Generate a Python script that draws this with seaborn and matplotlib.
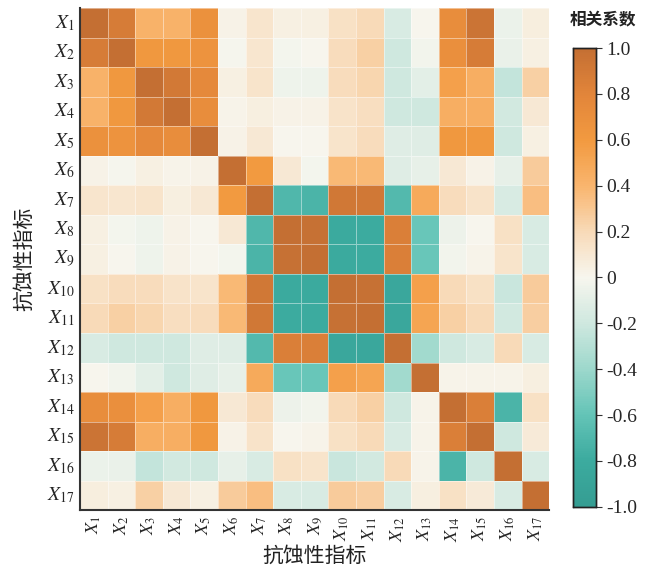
import numpy as np
import pandas as pd
import matplotlib
matplotlib.use("Agg")
import matplotlib.pyplot as plt
from matplotlib.colors import LinearSegmentedColormap
import seaborn as sns

labels = [f"X{i}" for i in range(1, 18)]
tick_labels = [f"$X_{{{i}}}$" for i in range(1, 18)]

# correlation coefficients, one row per indicator
r01 = [1.00, 0.88, 0.42, 0.42, 0.68, 0.03, 0.12, 0.04, 0.04, 0.15, 0.20, -0.15, 0.00, 0.72, 0.95, -0.06, 0.06]
r02 = [0.88, 1.00, 0.62, 0.62, 0.66, -0.01, 0.11, -0.02, 0.00, 0.18, 0.25, -0.20, -0.03, 0.70, 0.88, -0.07, 0.04]
r03 = [0.42, 0.62, 1.00, 0.90, 0.76, 0.04, 0.13, -0.04, -0.04, 0.18, 0.22, -0.20, -0.10, 0.55, 0.45, -0.25, 0.25]
r04 = [0.42, 0.62, 0.90, 1.00, 0.72, 0.02, 0.05, 0.03, 0.03, 0.14, 0.17, -0.20, -0.20, 0.45, 0.45, -0.18, 0.10]
r05 = [0.68, 0.66, 0.76, 0.72, 1.00, 0.03, 0.10, 0.00, 0.00, 0.13, 0.18, -0.12, -0.12, 0.62, 0.62, -0.20, 0.04]
r06 = [0.03, -0.01, 0.04, 0.02, 0.03, 1.00, 0.60, 0.10, -0.02, 0.38, 0.38, -0.12, -0.08, 0.10, 0.03, -0.08, 0.28]
r07 = [0.12, 0.11, 0.13, 0.05, 0.10, 0.60, 1.00, -0.70, -0.72, 0.92, 0.92, -0.68, 0.48, 0.18, 0.14, -0.15, 0.35]
r08 = [0.04, -0.02, -0.04, 0.03, 0.00, 0.10, -0.70, 1.00, 0.98, -0.82, -0.80, 0.85, -0.58, -0.05, 0.00, 0.15, -0.15]
r09 = [0.04, 0.00, -0.04, 0.03, 0.00, -0.02, -0.72, 0.98, 1.00, -0.82, -0.80, 0.85, -0.58, -0.03, 0.02, 0.13, -0.15]
r10 = [0.15, 0.18, 0.18, 0.14, 0.13, 0.38, 0.92, -0.82, -0.82, 1.00, 0.98, -0.85, 0.55, 0.20, 0.15, -0.22, 0.28]
r11 = [0.20, 0.25, 0.22, 0.17, 0.18, 0.38, 0.92, -0.80, -0.80, 0.98, 1.00, -0.85, 0.52, 0.25, 0.20, -0.18, 0.26]
r12 = [-0.15, -0.20, -0.20, -0.20, -0.12, -0.12, -0.68, 0.85, 0.85, -0.85, -0.85, 1.00, -0.38, -0.20, -0.15, 0.20, -0.15]
r13 = [0.00, -0.03, -0.10, -0.20, -0.12, -0.08, 0.48, -0.58, -0.58, 0.55, 0.52, -0.38, 1.00, 0.02, 0.02, 0.02, 0.05]
r14 = [0.72, 0.70, 0.55, 0.45, 0.62, 0.10, 0.18, -0.05, -0.03, 0.20, 0.25, -0.20, 0.02, 1.00, 0.85, -0.72, 0.15]
r15 = [0.95, 0.88, 0.45, 0.45, 0.62, 0.03, 0.14, 0.00, 0.02, 0.15, 0.20, -0.15, 0.02, 0.85, 1.00, -0.20, 0.08]
r16 = [-0.06, -0.07, -0.25, -0.18, -0.20, -0.08, -0.15, 0.15, 0.13, -0.22, -0.18, 0.20, 0.02, -0.72, -0.20, 1.00, -0.15]
r17 = [0.06, 0.04, 0.25, 0.10, 0.04, 0.28, 0.35, -0.15, -0.15, 0.28, 0.26, -0.15, 0.05, 0.15, 0.08, -0.15, 1.00]

cbar_ticks = [1.0, 0.8, 0.6, 0.4, 0.2, 0.0, -0.2, -0.4, -0.6, -0.8, -1.0]
cbar_ticklabels = ["1.0", "0.8", "0.6", "0.4", "0.2", "0", "-0.2", "-0.4", "-0.6", "-0.8", "-1.0"]

corr = pd.DataFrame([r01, r02, r03, r04, r05, r06, r07, r08, r09, r10,
                     r11, r12, r13, r14, r15, r16, r17],
                    index=labels, columns=labels)

sns.set_style("white")
plt.rcParams["mathtext.fontset"] = "stix"
plt.rcParams["font.family"] = ["Liberation Serif", "DejaVu Sans"]

cmap = LinearSegmentedColormap.from_list(
    "teal_orange",
    [(0.00, "#359d92"), (0.10, "#3cab9f"), (0.20, "#64c4b7"),
     (0.30, "#9dd8cc"), (0.40, "#cfe8df"), (0.50, "#f7f6ee"),
     (0.60, "#f8dab8"), (0.70, "#f9b56e"), (0.80, "#f29a40"),
     (0.90, "#e2853a"), (1.00, "#c46f33")])

fig = plt.figure(figsize=(6.46, 5.72), dpi=100)
ax = fig.add_axes([0.124, 0.108, 0.726, 0.878])
cax = fig.add_axes([0.887, 0.114, 0.036, 0.802])

sns.heatmap(corr, ax=ax, cbar_ax=cax, cmap=cmap, vmin=-1, vmax=1,
            linewidths=0.6, linecolor=(1, 1, 1, 0.45),
            xticklabels=tick_labels, yticklabels=tick_labels)

ax.tick_params(axis="y", length=0, labelsize=14, pad=4)
ax.tick_params(axis="x", length=0, labelsize=13, pad=4)
ax.set_xticklabels(tick_labels, rotation=90)
ax.set_yticklabels(tick_labels, rotation=0)
for side in ["left", "bottom"]:
    ax.spines[side].set_visible(True)
    ax.spines[side].set_color("#333333")
    ax.spines[side].set_linewidth(1.5)

cjk = ["Noto Sans CJK SC", "DejaVu Sans"]
ax.set_xlabel("抗蚀性指标", family=cjk, fontsize=15, color="#222222")
ax.xaxis.set_label_coords(0.5, -0.068)
ax.set_ylabel("抗蚀性指标", family=cjk, fontsize=15, labelpad=8, color="#222222")

cax.set_yticks(cbar_ticks)
cax.set_yticklabels(cbar_ticklabels)
cax.tick_params(labelsize=14, length=4, width=0.8, color="#333333")
for s in cax.spines.values():
    s.set_visible(True)
    s.set_color("#222222")
    s.set_linewidth(1.0)
fig.text(0.933, 0.966, "相关系数", family=cjk, fontsize=12, fontweight="bold",
         ha="center", va="center", color="#222222")

fig.savefig("out.png", dpi=100)
